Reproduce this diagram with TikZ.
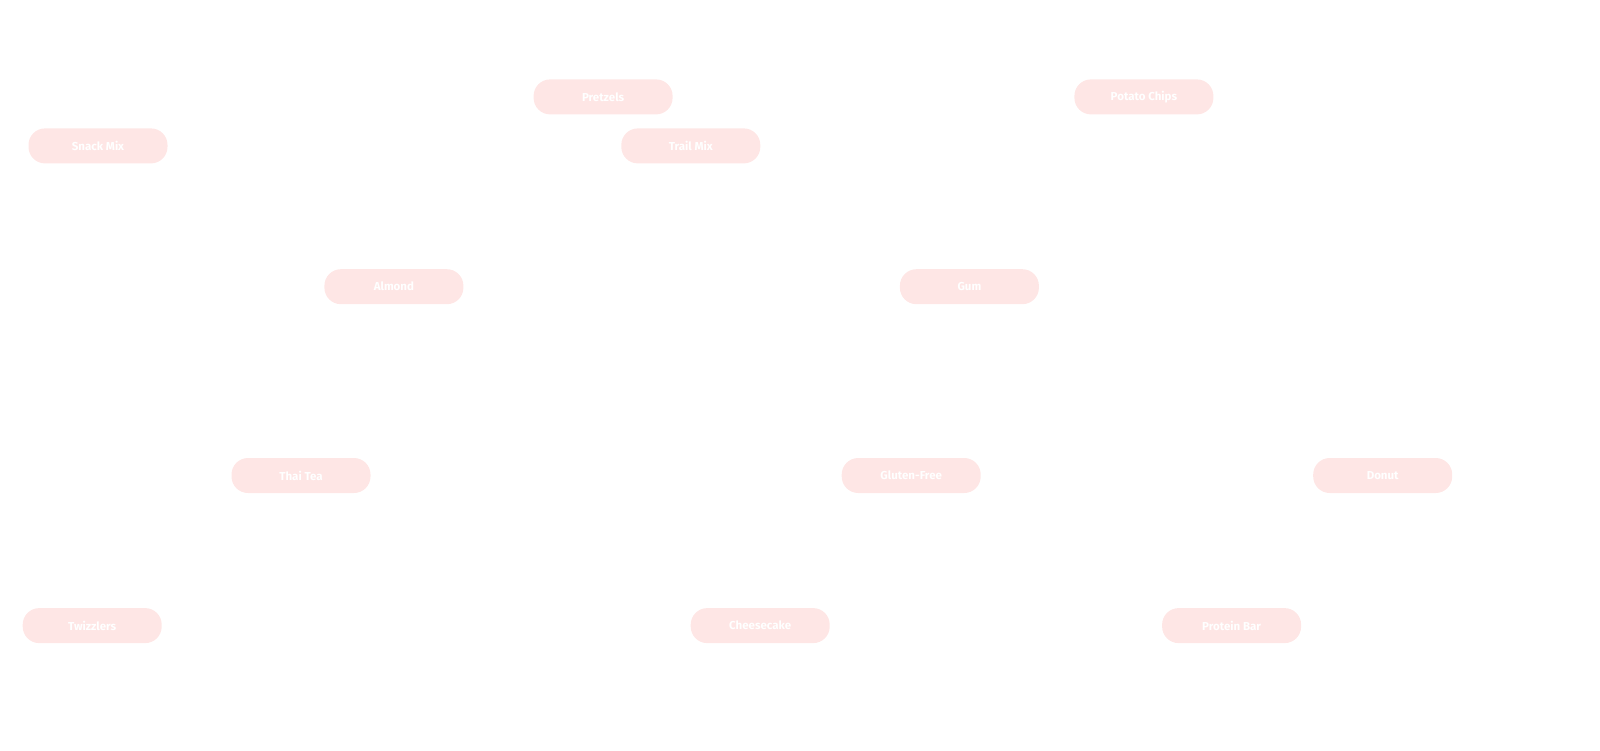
\documentclass[tikz,border=0pt]{standalone}
\usepackage{fontspec}
\setmainfont{Fira Sans}
\definecolor{pillfill}{RGB}{254,230,229}
\tikzset{
  pill/.style={draw=none, fill=pillfill, rounded corners=16.5pt, minimum width=139pt, minimum height=35pt, inner sep=0pt, text=white, font=\fontsize{11.5pt}{13pt}\selectfont\bfseries}
}
\begin{document}
\begin{tikzpicture}[x=1pt,y=-1pt]
\useasboundingbox (0,0) rectangle (1600,750);
\node[pill] (pretzels) at (603.1,96.9) {Pretzels};
\node[pill] (chips) at (1143.9,96.9) {Potato Chips};
\node[pill] (snackmix) at (98.0,145.9) {Snack Mix};
\node[pill] (trailmix) at (690.8,145.9) {Trail Mix};
\node[pill] (almond) at (393.9,286.7) {Almond};
\node[pill] (gum) at (969.4,286.7) {Gum};
\node[pill] (thaitea) at (301.0,475.5) {Thai Tea};
\node[pill] (glutenfree) at (911.2,475.5) {Gluten-Free};
\node[pill] (donut) at (1382.7,475.5) {Donut};
\node[pill] (twizzlers) at (92.2,625.6) {Twizzlers};
\node[pill] (cheesecake) at (760.2,625.6) {Cheesecake};
\node[pill] (proteinbar) at (1231.6,625.6) {Protein Bar};
\end{tikzpicture}
\end{document}
